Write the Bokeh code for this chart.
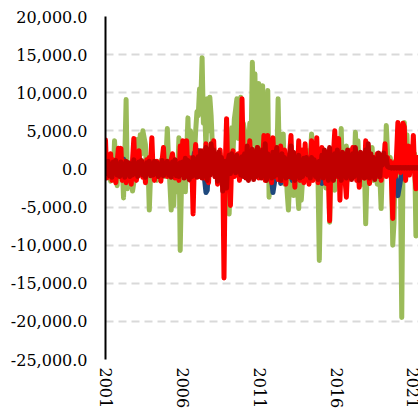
from bokeh.plotting import figure
from bokeh.models import Range1d, FixedTicker, NumeralTickFormatter, ColumnDataSource
from bokeh.embed import file_html
from bokeh.resources import INLINE

# Monthly series starting January 2001, values in thousands
start_year = 2001
x_ticks = [2001, 2006, 2011, 2016, 2021]
y_ticks = [-25000, -20000, -15000, -10000, -5000, 0, 5000, 10000, 15000, 20000]

green = [
    0.6, -0.9, 1.4, -0.4, -1.6, 0.8, -1.2, 3.7, 0.9, -2.2, 1.6, -0.8,     # 2001
    -1.0, 0.5, -3.8, 1.5, 9.1, -2.6, -0.4, -2.3, 0.6, -2.9, -1.8, 0.9,    # 2002
    1.2, 3.9, -0.8, 4.5, 2.0, 5.0, 4.1, 3.2, -1.0, 0.6, -5.4, -0.7,       # 2003
    0.4, -1.2, 0.9, -0.6, -1.5, 0.3, -0.9, 1.1, -0.4, 0.8, -1.0, 1.6,     # 2004
    5.3, 1.0, -2.0, -5.4, -1.5, -4.8, 0.5, -3.0, -1.0, 4.1, -10.7, -2.0,  # 2005
    -1.5, 0.5, -3.0, 2.0, 6.7, 1.0, 5.0, 2.4, 3.5, 1.5, 5.0, 7.5,         # 2006
    7.0, 10.5, 9.0, 14.6, 6.0, 8.1, 2.5, 9.2, 5.0, 9.4, 7.0, 3.0,         # 2007
    2.8, -0.5, 1.5, -1.2, 0.6, 2.0, -1.0, 1.0, -0.8, 0.5, -1.5, -4.0,     # 2008
    -5.9, -1.0, 5.4, 2.0, 6.5, 7.8, 9.2, 4.0, 8.0, 9.4, 3.0, 6.0,         # 2009
    5.0, 1.5, 3.7, 0.8, 6.0, 3.0, 14.0, 8.0, 12.5, 2.0, 4.0, 11.2,        # 2010
    6.0, 2.0, 10.9, -1.0, 9.5, 3.0, 10.3, -3.7, 1.5, -2.5, 0.8, -1.5,     # 2011
    2.5, 0.5, 9.2, 1.0, 3.5, -1.0, 4.6, -2.0, 1.0, -3.0, -5.4, -1.5,      # 2012
    -2.0, 0.8, -3.5, 1.5, -1.0, -2.5, -5.2, 0.5, -4.1, -1.5, 0.5, -0.8,   # 2013
    1.0, 2.4, -0.5, 1.5, 4.6, 1.0, -0.5, 2.0, 0.5, -1.5, -12.0, -2.0,     # 2014
    0.5, -1.0, 1.5, -2.5, 0.8, 2.1, -7.0, 0.6, -2.0, 1.2, -2.8, -1.5,     # 2015
    1.0, -1.9, 0.5, 5.3, -1.0, 2.0, -0.5, 3.0, -1.5, 1.0, 2.5, -0.8,      # 2016
    1.5, -1.0, 4.8, 0.5, 3.7, -0.5, 1.0, -2.0, 2.0, 0.5, -7.2, -1.0,      # 2017
    1.0, 2.4, -0.5, 2.8, -1.5, 1.0, 0.5, -2.0, 1.5, -1.0, -5.2, 0.5,      # 2018
    1.0, -0.5, 5.7, 2.0, -0.5, 1.5, 0.5, -10.0, -7.0, 1.0, -2.0, 0.5,     # 2019
    0.5, -1.5, -19.5, 1.0, 6.1, 2.0, 4.5, 0.2, -0.5, 1.5, 3.0, 0.5,       # 2020
    2.0, -8.8, -3.0, 1.0,                                                 # 2021
]

blue = [
    0.3, -0.4, 0.5, -0.2, 0.6, -0.5, 0.2, -0.6, 0.4, -0.3, 0.5, -0.2,
    0.4, 0.8, 1.3, -0.5, 0.3, -0.6, 0.5, -0.4, 0.2, -0.5, 0.6, -0.3,
    0.2, -0.6, 0.4, -0.6, 0.5, -0.3, 0.6, -0.4, 0.3, -0.5, 0.4, -0.2,
    0.5, -0.3, 0.2, -0.5, 0.4, -0.6, 0.3, -0.2, 0.5, -0.4, 0.2, -0.5,
    0.3, -0.4, 0.6, -0.3, 0.2, -0.6, 0.4, -0.5, 0.3, -0.2, 0.5, -0.4,
    0.4, -0.3, 0.5, -0.6, 0.3, -0.4, 0.6, -0.5, 0.8, 2.1, 1.0, 2.0,
    2.4, 0.5, 1.8, -0.5, 0.8, -1.5, -3.1, -2.8, 0.5, -0.8, 0.6, -0.4,
    0.8, -0.6, 1.0, -0.8, 0.5, -1.0, 0.6, -0.7, 0.4, -0.9, 0.8, -0.5,
    0.6, -0.8, 0.5, -0.6, 0.7, -0.5, 0.4, -0.6, -1.1, -0.8, 0.5, -0.4,
    0.5, -0.6, 0.4, -0.5, 0.6, -0.4, 0.3, -0.6, 0.5, -0.3, 0.4, -0.5,
    0.4, -0.5, 0.6, -0.4, 0.3, -0.6, 0.5, -0.8, 0.4, -1.5, -3.1, -2.0,
    -0.8, 0.4, -1.0, 0.5, -1.9, -1.2, 0.3, -0.6, 0.5, -0.8, 0.4, -0.6,
    -1.0, -1.5, 0.4, -0.6, 0.5, -0.8, 0.3, -0.5, 0.6, -0.7, 0.4, -0.6,
    0.5, -0.8, 0.4, -0.6, 0.3, -0.5, 0.6, -0.7, 0.4, -0.6, 0.5, -0.8,
    -1.9, -1.0, 0.4, -0.6, 0.5, -0.4, 0.3, -0.6, 0.5, -0.5, 0.4, -0.6,
    0.5, -0.6, 0.4, -0.5, 0.3, -0.6, 0.5, -0.4, 0.6, -0.5, 0.3, -0.6,
    0.4, -0.5, 0.6, -0.4, 0.3, -0.6, 0.5, -0.5, 0.4, -0.6, 0.3, -0.5,
    0.5, -0.4, 0.3, -0.6, 0.5, -0.5, 0.4, 0.9, 2.0, 1.5, 0.4, -0.5,
    0.3, -0.6, 0.5, -0.4, 0.3, -0.5, 0.4, -0.8, 0.5, -1.0, -2.0, -3.5,
    -2.5, -1.5, -0.8, -1.1, -0.3, -0.2, 0.0, 0.1, 0.0, -0.1, 0.1, 0.0,
    0.0, 0.1, 0.0, 0.1,
]

yellow = [
    0.2, -0.4, 0.1, -0.3, 0.4, -0.2, 0.3, -0.5, 0.2, -0.1, 0.3, -0.4,
    0.1, -0.3, 0.4, -0.2, 0.2, -0.4, 0.3, -0.1, 0.2, -0.5, 0.1, -0.3,
    0.3, -0.2, 0.1, -0.4, 0.2, -0.3, 0.4, -0.1, 0.3, -0.2, 0.1, -0.5,
    0.2, -0.1, 0.3, -0.4, 0.1, -0.2, 0.4, -0.3, 0.2, -0.4, 0.3, -0.1,
    0.4, -0.3, 0.2, -0.1, 0.3, -0.5, 0.1, -0.2, 0.4, -0.3, 0.2, -0.4,
    0.1, -0.2, 0.3, -0.4, 0.2, -0.1, 0.4, -0.3, 0.1, -0.5, 0.3, -0.2,
    0.3, -0.4, 0.5, -0.2, 0.6, -0.5, 0.4, -0.8, 0.3, -0.4, 0.5, -0.3,
    0.4, -0.3, 0.6, -0.5, 0.3, -0.6, 0.5, -0.4, 0.2, -0.7, 0.4, -0.3,
    0.3, -0.5, 0.4, -0.2, 0.5, -0.4, 0.3, -0.6, 0.2, -0.3, 0.4, -0.5,
    0.2, -0.4, 0.3, -0.5, 0.1, -0.3, 0.4, -0.2, 0.3, -0.4, 0.2, -0.3,
    0.4, -0.2, 0.3, -0.4, 0.5, -0.3, 0.2, -0.5, 0.3, -0.2, 0.4, -0.6,
    0.2, -0.3, 0.4, -0.5, 0.3, -0.2, 0.1, -0.4, 0.3, -0.5, 0.2, -0.3,
    0.3, -0.4, 0.2, -0.3, 0.4, -0.5, 0.3, -0.2, 0.1, -0.4, 0.3, -0.2,
    0.2, -0.3, 0.4, -0.2, 0.3, -0.4, 0.2, -0.5, 0.4, -0.3, 0.1, -0.2,
    0.3, -0.2, 0.1, -0.4, 0.2, -0.3, 0.4, -0.1, 0.3, -0.4, 0.2, -0.3,
    0.2, -0.4, 0.3, -0.2, 0.4, -0.3, 0.1, -0.4, 0.2, -0.3, 0.4, -0.2,
    0.3, -0.2, 0.4, -0.3, 0.2, -0.4, 0.3, -0.1, 0.2, -0.3, 0.4, -0.4,
    0.1, -0.3, 0.2, -0.4, 0.3, -0.2, 0.4, -0.3, 0.2, -0.1, 0.3, -0.4,
    0.2, -0.4, 0.3, -0.2, 0.1, -0.3, 0.2, -0.5, 0.3, -0.2, 0.1, -0.3,
    0.1, 0.0, 0.1, 0.0, 0.1, 0.0, 0.1, 0.0, 0.1, 0.0, 0.1, 0.0,
    0.1, 0.0, 0.1, 0.0,
]

red = [
    3.8, -1.2, 0.5, -0.8, 2.0, -1.5, 1.2, -0.5, -1.8, 0.8, 2.7, 1.0,
    2.7, -1.5, -0.6, 1.0, -1.8, 0.2, -1.0, 0.5, -2.0, 1.2, 4.0, -0.5,
    -1.5, 0.5, 2.4, -0.8, 1.0, -1.1, 0.6, -1.8, 1.2, -0.5, 1.5, 0.8,
    4.1, -0.5, -1.5, 0.8, 1.0, -1.0, 0.5, -1.6, 1.2, 2.8, -0.4, 0.6,
    -1.0, 0.6, -0.5, 1.2, 2.0, 0.3, -1.2, -0.6, 1.0, -1.5, 3.0, 0.5,
    3.7, 0.5, -1.0, 3.7, -0.8, 1.5, -1.5, 0.8, -5.9, 1.0, 3.2, -0.5,
    1.5, -1.0, 0.8, -0.5, 2.4, -1.2, 3.3, 0.5, -1.8, 2.0, -0.6, 1.0,
    3.7, -1.0, 1.5, -2.0, 0.8, 2.5, -1.5, 1.0, -14.3, 0.5, 6.6, -1.0,
    0.5, -4.8, 1.0, 2.4, -1.0, 1.5, -0.8, 2.0, -1.5, 0.5, 9.2, 1.0,
    -0.5, -1.1, 1.5, 0.5, 3.7, -1.0, 1.2, -0.8, 2.0, 0.5, 2.8, -1.2,
    2.5, -1.0, 0.8, 4.4, -1.5, 2.0, 4.4, -0.5, 1.5, -1.8, 4.1, 0.5,
    -1.0, 2.0, -1.4, 1.0, 3.0, -1.5, 0.5, 2.5, -2.0, 1.0, -0.8, 2.0,
    4.4, -0.5, 1.0, -2.4, 2.0, -1.0, 3.7, -1.5, 0.8, 2.5, -1.8, 3.3,
    -1.0, 1.5, -2.0, 0.5, 3.7, -1.5, 1.0, -0.5, 4.1, -1.8, 2.0, -0.8,
    2.8, -1.0, 0.5, -1.9, 1.5, -0.5, -6.8, 1.0, -1.2, 2.0, 5.0, -0.5,
    -1.0, 4.0, -4.1, 1.0, -0.5, 2.0, -1.5, -3.7, 0.5, 2.4, -1.0, 1.5,
    2.8, -0.8, 1.0, -1.5, 0.5, -2.4, 1.2, -0.5, 2.0, -1.2, 3.7, 0.5,
    -0.5, -1.9, 1.0, -0.8, 1.5, -1.2, 0.5, 2.0, -1.0, 0.8, -1.5, 1.0,
    0.5, 3.3, -1.0, 1.5, -0.5, 1.0, -1.5, -6.5, 0.8, -1.0, 2.0, 6.1,
    1.0, -0.5, 2.0, 6.0, 5.5, -1.5, 1.0, 3.0, -0.8, 2.0, 0.5, 4.4,
    -0.5, -2.6, 1.5, 0.5,
]

dark_red = [
    0.8, -0.6, 1.0, -0.9, 0.5, -1.1, 0.9, -0.4, 1.1, -0.8, 0.6, -1.0,
    0.9, -0.7, 0.4, -1.1, 1.0, -0.5, 0.8, -1.0, 0.6, -0.8, 1.2, -0.6,
    0.7, -1.0, 0.9, -0.5, 1.1, -0.8, 0.5, -1.1, 0.8, -0.6, 1.0, -0.9,
    0.6, -0.8, 1.0, -0.6, 0.8, -1.0, 0.5, -0.7, 1.1, -0.9, 0.7, -0.5,
    1.0, -0.8, 0.6, -1.1, 0.9, -0.5, 1.2, -0.9, 0.6, -1.0, 0.8, -0.7,
    0.9, -1.2, 1.4, -0.6, 1.1, -1.4, 0.8, -1.0, 1.5, -0.8, 1.2, -1.1,
    1.6, -0.9, 2.4, -1.2, 1.5, -0.6, 2.8, -1.5, 2.0, -0.8, 3.3, 0.5,
    2.5, -1.0, 1.8, -1.6, 2.2, -0.8, 1.5, -2.9, -1.2, 1.0, -2.5, 0.8,
    1.8, -0.6, 2.0, 0.5, 1.5, -0.5, 1.8, -0.3, 1.2, -0.8, 1.6, -1.0,
    2.0, -1.2, 3.0, -1.5, 1.8, -0.6, 2.6, -1.4, 1.5, -1.0, 2.8, -0.8,
    1.8, -1.2, 2.5, -0.8, 3.3, -1.5, 2.0, -0.5, 1.5, -1.2, 2.2, -1.0,
    1.5, 2.8, -0.8, 1.2, -1.5, 2.0, -0.6, 1.5, -1.2, 0.8, -1.0, 1.8,
    3.0, -1.2, 2.2, -1.5, 1.0, -0.8, 1.8, -1.2, 0.6, -1.0, 1.4, -0.6,
    1.5, -0.8, 1.0, -1.2, 1.5, -0.5, 1.2, -1.0, 0.8, -1.4, 1.0, -0.6,
    1.8, -1.2, 2.5, -0.8, 1.5, -1.5, 2.8, -1.0, 1.2, -1.5, 2.0, -0.8,
    2.5, -1.0, 1.5, -1.5, 2.2, -0.8, 1.8, -1.2, 2.5, -0.6, 1.5, -1.4,
    2.0, -1.0, 2.8, -0.8, 1.5, -1.5, 2.2, -0.6, 1.8, -1.2, 2.5, -1.0,
    3.3, -1.2, 2.0, -0.8, 1.5, -1.4, 1.2, -0.6, 2.1, -1.0, 1.8, 0.5,
    2.1, 0.8, 1.5, 0.3, 0.2, 0.2, 0.1, 0.2, 0.1, 0.2, 0.1, 0.2,
    0.1, 0.2, 0.1, 0.2, 0.1, 0.2, 0.1, 0.2, 0.1, 0.2, 0.1, 0.2,
    0.1, 0.2, 0.1, 0.2,
]


def source(vals):
    return ColumnDataSource(dict(
        x=[start_year + i / 12 for i in range(len(vals))],
        y=[v * 1000 for v in vals],
    ))


p = figure(width=418, height=412, output_backend="svg", toolbar_location=None,
           x_range=Range1d(2001, 2021.25), y_range=Range1d(-25000, 20000),
           min_border_left=105, min_border_right=0, min_border_top=16,
           min_border_bottom=53)
p.outline_line_color = None
p.background_fill_color = "white"
p.border_fill_color = "white"

p.xgrid.grid_line_color = None
p.ygrid.grid_line_color = "#D9D9D9"
p.ygrid.grid_line_width = 2
p.ygrid.grid_line_dash = "8 5"

p.yaxis.ticker = FixedTicker(ticks=y_ticks)
p.yaxis.formatter = NumeralTickFormatter(format="0,0.0")
p.yaxis.axis_line_color = "black"
p.yaxis.axis_line_width = 2
p.yaxis.major_tick_line_color = None
p.yaxis.minor_tick_line_color = None
p.yaxis.major_tick_out = 0
p.yaxis.major_label_standoff = 18

p.xaxis.ticker = FixedTicker(ticks=x_ticks)
p.xaxis.major_label_overrides = {t: str(t) for t in x_ticks}
p.xaxis.axis_line_color = None
p.xaxis.major_tick_line_color = None
p.xaxis.minor_tick_line_color = None
p.xaxis.major_tick_out = 0
p.xaxis.major_label_orientation = "vertical"
p.xaxis.major_label_standoff = 8

for ax in (p.xaxis, p.yaxis):
    ax.major_label_text_font = "DejaVu Serif"
    ax.major_label_text_font_size = "16px"
    ax.major_label_text_color = "black"

series = [
    (green, "#9BBB59", 5),
    (blue, "#1F497D", 5),
    (yellow, "#FFC000", 3),
    (red, "#FF0000", 5),
    (dark_red, "#C00000", 5),
]
for vals, color, w in series:
    p.line("x", "y", source=source(vals), line_color=color, line_width=w,
           line_join="round", line_cap="round")

open("out.html", "w").write(file_html(p, INLINE))
